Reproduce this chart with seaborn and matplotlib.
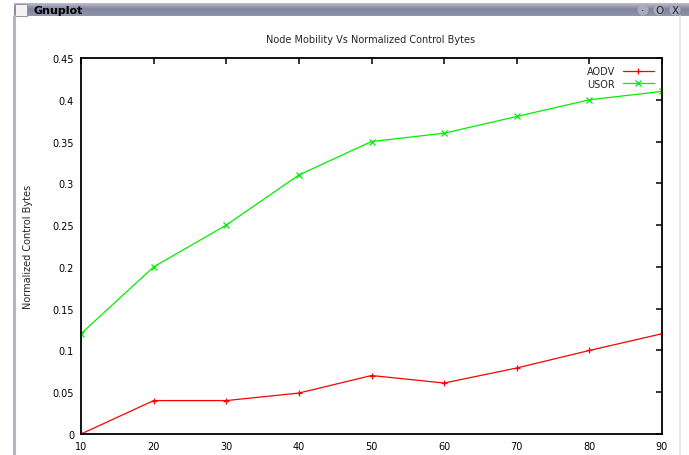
import numpy as np
import pandas as pd
import matplotlib
matplotlib.use("Agg")
import matplotlib.pyplot as plt
import seaborn as sns
from matplotlib.patches import Rectangle, Ellipse
from matplotlib.lines import Line2D

# ---- data -------------------------------------------------------------
mobility = [10, 20, 30, 40, 50, 60, 70, 80, 90]
aodv = [0.0, 0.04, 0.04, 0.049, 0.07, 0.061, 0.079, 0.1, 0.12]
usor = [0.12, 0.2, 0.25, 0.31, 0.35, 0.36, 0.38, 0.4, 0.41]
x_ticks = [10, 20, 30, 40, 50, 60, 70, 80, 90]
y_ticks = [0, 0.05, 0.1, 0.15, 0.2, 0.25, 0.3, 0.35, 0.4, 0.45]
y_tick_labels = ["0", "0.05", "0.1", "0.15", "0.2", "0.25", "0.3", "0.35", "0.4", "0.45"]
series_names = ["AODV", "USOR"]
series_colors = {"AODV": "#ff0000", "USOR": "#00ee00"}
series_markers = {"AODV": "+", "USOR": "x"}
series_msize = {"AODV": 4.5, "USOR": 3.8}

df = pd.DataFrame({
    "mobility": mobility * 2,
    "bytes": aodv + usor,
    "protocol": ["AODV"] * len(aodv) + ["USOR"] * len(usor),
})

sns.set_theme(style="white")
FONT = ["Liberation Sans Narrow", "DejaVu Sans"]
plt.rcParams["font.family"] = FONT

W, H = 689, 456
fig = plt.figure(figsize=(W / 100, H / 100), dpi=100)
fig.patch.set_facecolor("white")

# ---- window chrome ----------------------------------------------------
bar_top, bar_bot = 4, 17
grad = np.linspace(0, 1, 20).reshape(-1, 1)
bar_ax = fig.add_axes([14 / W, 1 - bar_bot / H, (W - 14) / W, (bar_bot - bar_top) / H])
bar_ax.imshow(grad, aspect="auto", cmap=matplotlib.colors.LinearSegmentedColormap.from_list(
    "bar", ["#c3c6d3", "#80849c", "#9094aa"]), extent=[0, 1, 0, 1])
bar_ax.set_axis_off()
fig.add_artist(Rectangle((15 / W, 1 - 16.5 / H), 12 / W, 12 / H, transform=fig.transFigure,
                         facecolor="#f4f4f4", edgecolor="#888888", lw=0.6))
fig.text(33 / W, 1 - 10.5 / H, "Gnuplot", fontsize=8, fontweight="bold",
         va="center", ha="left", color="black", family=FONT)
for cx, sym in [(643, "·"), (659, "O"), (675, "X")]:
    fig.add_artist(Ellipse((cx / W, 1 - 11 / H), 11 / W, 11 / H, transform=fig.transFigure,
                           facecolor="#a9acbd", edgecolor="none"))
    fig.text(cx / W, 1 - 11 / H, sym, fontsize=7.5, ha="center", va="center",
             color="#222222", family=FONT)
fig.add_artist(Line2D([14 / W, 14 / W], [0, 1 - 17 / H], transform=fig.transFigure,
                      color="#b4b6c0", lw=2.2))
fig.add_artist(Line2D([680 / W, 680 / W], [0, 1 - 17 / H], transform=fig.transFigure,
                      color="#e4e4e4", lw=1.2))

# ---- plot -------------------------------------------------------------
ax = fig.add_axes([81 / W, 1 - 435 / H, (662 - 81) / W, (435 - 59) / H])
sns.lineplot(data=df, x="mobility", y="bytes", hue="protocol", style="protocol",
             hue_order=series_names, style_order=series_names,
             palette=series_colors, markers=series_markers, dashes=False,
             linewidth=0.9, ax=ax, legend=False)
# line-style markers ('+', 'x') take their colour from the edge
for line, name in zip(ax.lines, series_names):
    line.set_markeredgecolor(line.get_color())
    line.set_markeredgewidth(0.9)
    line.set_markersize(series_msize[name])

ax.set_xlim(10, 90)
ax.set_ylim(0, 0.45)
ax.set_xticks(x_ticks)
ax.set_xticklabels([str(v) for v in x_ticks])
ax.set_yticks(y_ticks)
ax.set_yticklabels(y_tick_labels)
ax.tick_params(direction="in", length=4, width=1.1, top=True, right=True,
               labelsize=7, pad=5, colors="black")
for lab in ax.get_xticklabels() + ax.get_yticklabels():
    lab.set_family(FONT)
for s in ax.spines.values():
    s.set_visible(True)
    s.set_color("black")
    s.set_linewidth(1.3)
ax.set_xlabel("")
ax.set_ylabel("Normalized Control Bytes", fontsize=7, labelpad=14, family=FONT)
ax.set_facecolor("white")

fig.text(371 / W, 1 - 40 / H, "Node Mobility Vs Normalized Control Bytes",
         fontsize=7, ha="center", va="center", family=FONT)

# legend (gnuplot-style: label at left, sample line at right)
handles = [Line2D([], [], color=series_colors[n], marker=series_markers[n], lw=0.9,
                  markersize=series_msize[n], markeredgewidth=0.9) for n in series_names]
leg = ax.legend(handles, series_names, loc="upper right", frameon=False,
                markerfirst=False, handlelength=3.2, handletextpad=0.8,
                labelspacing=0.25, borderaxespad=0.45, prop={"family": FONT, "size": 7})

fig.savefig("out.png", dpi=100, facecolor="white")
